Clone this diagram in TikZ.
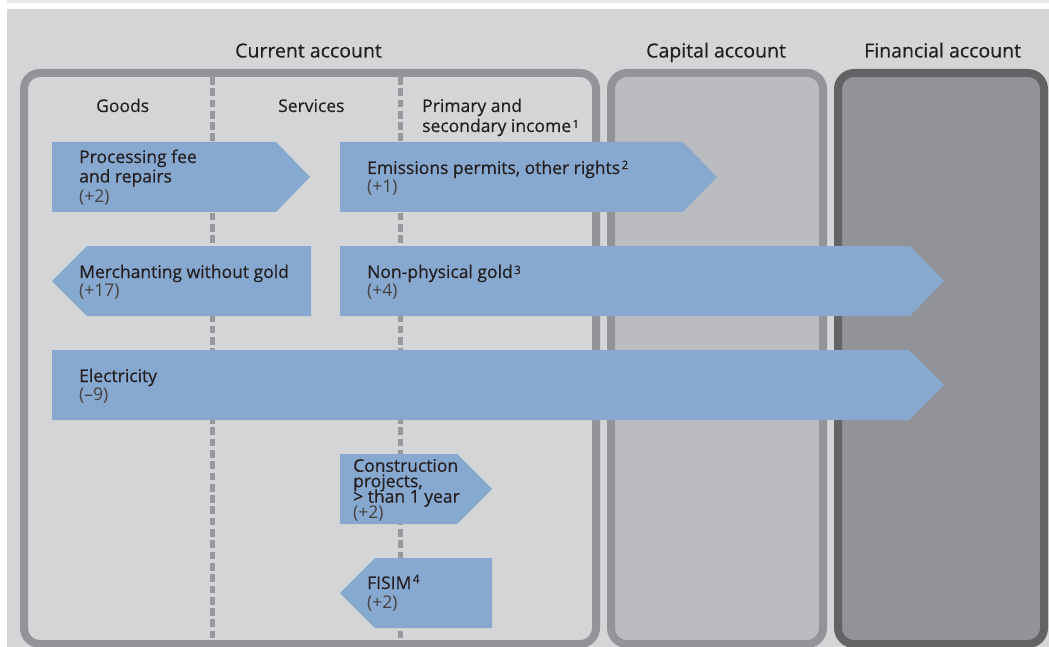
\documentclass[tikz,border=0pt]{standalone}
\usepackage{fontspec}
\setmainfont{Open Sans}
\newfontfamily\medfont[FakeBold=0.45]{Open Sans}
\definecolor{bggray}{RGB}{212,213,215}
\definecolor{stripgray}{RGB}{233,233,235}
\definecolor{boxborder}{RGB}{147,148,152}
\definecolor{capfill}{RGB}{187,188,191}
\definecolor{finfill}{RGB}{146,147,151}
\definecolor{finborder}{RGB}{99,99,102}
\definecolor{dashgray}{RGB}{152,153,156}
\definecolor{arrowblue}{RGB}{135,168,207}
\definecolor{txt}{RGB}{35,31,32}
\newcommand{\supnum}[2][5pt]{\kern1.5pt\raisebox{#1}{\fontsize{11.5}{11.5}\selectfont #2}}
\newcommand{\tightlines}{\lineskiplimit=-100pt\relax\lineskip=0pt\relax}
\newcommand{\numtxt}[1]{{\rmfamily\color{txt!85}#1}}
\begin{document}
\begin{tikzpicture}[x=1pt,y=-1pt,
  acctbox/.style={line width=8pt,rounded corners=16pt},
  divider/.style={line width=5pt,draw=dashgray,dash pattern=on 7.7pt off 3.6pt},
  flow/.style={fill=arrowblue},
  title/.style={inner sep=0pt,anchor=base west,text=txt,font=\medfont\fontsize{19.5}{22}\selectfont},
  lbl/.style={inner sep=0pt,anchor=base west,text=txt,font=\medfont\fontsize{17.5}{20}\selectfont},
  num/.style={inner sep=0pt,anchor=base west,text=txt!85,font=\fontsize{17.5}{20}\selectfont},
  block/.style={inner sep=0pt,anchor=base west,align=left,text=txt,
    font=\medfont\fontsize{17.5}{15.4}\selectfont\tightlines}]
\useasboundingbox (0,0) rectangle (1049,647);
\fill[white] (0,0) rectangle (1049,647);
\fill[stripgray] (7,0) rectangle (1049,3);
\fill[bggray] (7,9) rectangle (1049,647);
\begin{scope}
\clip (0,0) rectangle (1049,647);
% account boxes
\draw[acctbox,draw=boxborder,fill=bggray] (24,73) rectangle (596,644);
\draw[acctbox,draw=boxborder,fill=capfill] (611,73) rectangle (823,644);
\draw[acctbox,draw=finborder,fill=finfill] (838,73) rectangle (1044,644);
% dividers
\coordinate (d1t) at (212.5,77);
\coordinate (d1b) at (212.5,640);
\coordinate (d2t) at (400,77);
\coordinate (d2b) at (400,640);
\draw[divider] (d1t) -- (d1b);
\draw[divider] (d2t) -- (d2b);
\end{scope}
% flow arrows
\fill[flow] (52,142) -- (276,142) -- (310,177) -- (276,212) -- (52,212) -- cycle;
\fill[flow] (340,142) -- (683,142) -- (717,177) -- (683,212) -- (340,212) -- cycle;
\fill[flow] (52,281) -- (87,246) -- (311,246) -- (311,316) -- (87,316) -- cycle;
\fill[flow] (340,246) -- (910,246) -- (944,281) -- (910,316) -- (340,316) -- cycle;
\fill[flow] (52,350) -- (909,350) -- (944,385) -- (909,420) -- (52,420) -- cycle;
\fill[flow] (340,454) -- (457,454) -- (492,489) -- (457,524) -- (340,524) -- cycle;
\fill[flow] (340,593) -- (375,558) -- (492,558) -- (492,628) -- (375,628) -- cycle;
% titles
\node[title] (tcur) at (235,57.5) {Current account};
\node[title] (tcap) at (646,57.5) {Capital account};
\node[title] (tfin) at (864,57.5) {Financial account};
% column labels
\node[lbl] (goods) at (96,112) {Goods};
\node[lbl] (serv) at (278,112) {Services};
\node[lbl] (prim1) at (422,112) {Primary and};
\node[lbl] (prim2) at (422,132) {secondary income\supnum[4pt]{1}};
% arrow labels
\node[lbl] (pf1) at (79,163) {Processing fee};
\node[lbl] (pf2) at (79,182.5) {and repairs};
\node[num] (pf3) at (79,202.5) {(+2)};
\node[lbl] (em1) at (367,174) {Emissions permits, other rights\supnum{2}};
\node[num] (em2) at (367,193) {(+1)};
\node[lbl] (me1) at (79,278) {Merchanting without gold};
\node[num] (me2) at (79,296.5) {(+17)};
\node[lbl] (ng1) at (367,278) {Non-physical gold\supnum[4pt]{3}};
\node[num] (ng2) at (367,296.5) {(+4)};
\node[lbl] (el1) at (79,382) {Electricity};
\node[num] (el2) at (79,400) {(–9)};
\node[block] (co) at (353,518) {Construction\\projects,\\> than 1 year\\\numtxt{(+2)}};
\node[lbl] (fi1) at (367,589) {FISIM\supnum[6pt]{4}};
\node[num] (fi2) at (367,608) {(+2)};
\end{tikzpicture}
\end{document}
